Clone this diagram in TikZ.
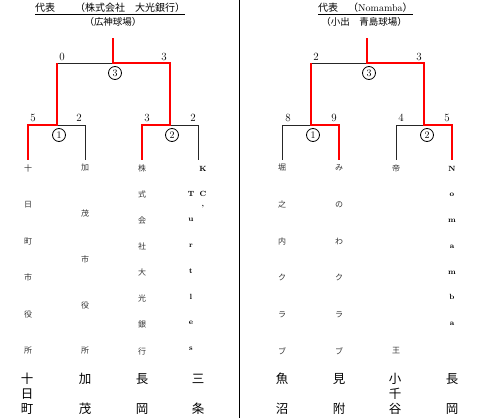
\documentclass[tikz,border=0pt]{standalone}
\usepackage{fontspec}
\newfontfamily\jp{Noto Sans CJK JP}
\begin{document}
\begin{tikzpicture}[x=1pt,y=-1pt,
  blk/.style={line width=0.9pt, black!85},
  win/.style={line width=2.6pt, red, line join=miter},
  sm/.style={font=\jp\fontsize{8}{8}\selectfont, inner sep=0pt, text=black!80},
  big/.style={font=\jp\fontsize{12.5}{12.5}\selectfont, inner sep=0pt},
  num/.style={font=\fontsize{11}{11}\selectfont, inner sep=0pt},
  lat/.style={font=\bfseries\fontsize{7.5}{7.5}\selectfont, inner sep=0pt, text height=1.5ex, text depth=0pt},
  circ/.style={circle, draw, line width=0.8pt, minimum size=13pt, inner sep=0pt, font=\fontsize{10}{10}\selectfont},
  ttl/.style={font=\jp\fontsize{10}{10}\selectfont, inner sep=0pt},
  ttlb/.style={font=\jp\fontsize{9.5}{9.5}\selectfont, inner sep=0pt},
  uline/.style={line width=0.6pt}]
\useasboundingbox (0,0) rectangle (480,418);
% divider
\coordinate (divT) at (239.5,0);
\coordinate (divB) at (239.5,418);
\draw[line width=1.8pt] (divT) -- (divB);

% ---------- left half ----------
\node[ttl, anchor=west] (Lt1) at (35,8) {代表　　（株式会社　大光銀行）};
\draw[uline] ([yshift=-1.5pt]Lt1.south west) -- ([yshift=-1.5pt]Lt1.south east);
\node[ttlb] (Lt2) at (113,22) {（広神球場）};

\coordinate (Ltop) at (113,38);
\coordinate (Lj3) at (113,63);
\coordinate (LL3) at (57,63);
\coordinate (LR3) at (170,63);
\coordinate (Lj1) at (57,125);
\coordinate (La) at (28,125);
\coordinate (Lb) at (85,125);
\coordinate (Lj2) at (170,125);
\coordinate (Lc) at (142,125);
\coordinate (Ld) at (198,125);
\coordinate (Lae) at (28,160);
\coordinate (Lbe) at (85,160);
\coordinate (Lce) at (142,160);
\coordinate (Lde) at (198,160);
\draw[blk] (Lj3) -- (LL3);
\draw[blk] (Lj1) -- (Lb) -- (Lbe);
\draw[blk] (Lj2) -- (Ld) -- (Lde);
\draw[win] (Ltop) -- (Lj3) -- (LR3) -- (Lj2) -- (Lc) -- (Lce);
\draw[win] (LL3) -- (Lj1) -- (La) -- (Lae);

\node[num] (Ls0) at (62,57) {0};
\node[num] (Ls3) at (164,57) {3};
\node[num] (Ls5) at (33,118) {5};
\node[num] (Ls2a) at (79,118) {2};
\node[num] (Ls3b) at (147,118) {3};
\node[num] (Ls2b) at (193,118) {2};
\node[circ, fill=white] (Lc3) at (115,73) {3};
\node[circ, fill=white] (Lc1) at (59,135) {1};
\node[circ, fill=white] (Lc2) at (172,135) {2};

\foreach \ch [count=\i] in {十,日,町,市,役,所}
  \node[sm] (Lk\i) at (28,{168+(\i-1)*36.6}) {\ch};
\foreach \ch [count=\i] in {加,茂,市,役,所}
  \node[sm] (Lm\i) at (85,{168+(\i-1)*45.75}) {\ch};
\foreach \ch [count=\i] in {株,式,会,社,大,光,銀,行}
  \node[sm] (Lg\i) at (142,{168+(\i-1)*26.14}) {\ch};
\node[lat] (LK) at (203,168) {K};
\node[lat] (LC) at (203,193) {C};
\node[lat] (Lcm) at (203,203) {,};
\foreach \ch [count=\i] in {T,u,r,t,l,e,s}
  \node[lat] (Lt\i) at (191,{193+(\i-1)*25.7}) {\ch};

\node[big] (Lb1) at (27,379) {十};
\node[big] (Lb2) at (27,394) {日};
\node[big] (Lb3) at (27,409) {町};
\node[big] (Lb4) at (85,379) {加};
\node[big] (Lb5) at (85,409) {茂};
\node[big] (Lb6) at (142,379) {長};
\node[big] (Lb7) at (142,409) {岡};
\node[big] (Lb8) at (198,379) {三};
\node[big] (Lb9) at (198,409) {条};

% ---------- right half ----------
\node[ttl, anchor=west] (Rt1) at (318,8) {代表　（\fontspec{Latin Modern Roman}Nomamba\jp）};
\draw[uline] ([yshift=-1.5pt]Rt1.south west) -- ([yshift=-1.5pt]Rt1.south east);
\node[ttlb] (Rt2) at (364,22) {（小出　青島球場）};

\coordinate (Rtop) at (367,38);
\coordinate (Rj3) at (367,63);
\coordinate (RL3) at (311,63);
\coordinate (RR3) at (424,63);
\coordinate (Rj1) at (311,125);
\coordinate (Ra) at (282,125);
\coordinate (Rb) at (339,125);
\coordinate (Rj2) at (424,125);
\coordinate (Rc) at (396,125);
\coordinate (Rd) at (452,125);
\coordinate (Rae) at (282,160);
\coordinate (Rbe) at (339,160);
\coordinate (Rce) at (396,160);
\coordinate (Rde) at (452,160);
\draw[blk] (Rj3) -- (RL3);
\draw[blk] (Rj1) -- (Ra) -- (Rae);
\draw[blk] (Rj2) -- (Rc) -- (Rce);
\draw[win] (Rtop) -- (Rj3) -- (RR3) -- (Rj2) -- (Rd) -- (Rde);
\draw[win] (RL3) -- (Rj1) -- (Rb) -- (Rbe);

\node[num] (Rs2) at (316,57) {2};
\node[num] (Rs3) at (419,57) {3};
\node[num] (Rs8) at (288,118) {8};
\node[num] (Rs9) at (334,118) {9};
\node[num] (Rs4) at (401,118) {4};
\node[num] (Rs5) at (447,118) {5};
\node[circ, fill=white] (Rc3) at (369,73) {3};
\node[circ, fill=white] (Rc1) at (313,135) {1};
\node[circ, fill=white] (Rc2) at (427,135) {2};

\foreach \ch [count=\i] in {堀,之,内,ク,ラ,ブ}
  \node[sm] (Rh\i) at (282,{168+(\i-1)*36.6}) {\ch};
\foreach \ch [count=\i] in {み,の,わ,ク,ラ,ブ}
  \node[sm] (Rw\i) at (339,{168+(\i-1)*36.6}) {\ch};
\node[sm] (Rte1) at (396,168) {帝};
\node[sm] (Rte2) at (396,351) {王};
\foreach \ch [count=\i] in {N,o,m,a,m,b,a}
  \node[lat] (Rn\i) at (452,{168+(\i-1)*25.7}) {\ch};

\node[big] (Rb1) at (282,379) {魚};
\node[big] (Rb2) at (282,409) {沼};
\node[big] (Rb3) at (339,379) {見};
\node[big] (Rb4) at (339,409) {附};
\node[big] (Rb5) at (395,379) {小};
\node[big] (Rb6) at (395,394) {千};
\node[big] (Rb7) at (395,409) {谷};
\node[big] (Rb8) at (452,379) {長};
\node[big] (Rb9) at (452,409) {岡};
\end{tikzpicture}
\end{document}
